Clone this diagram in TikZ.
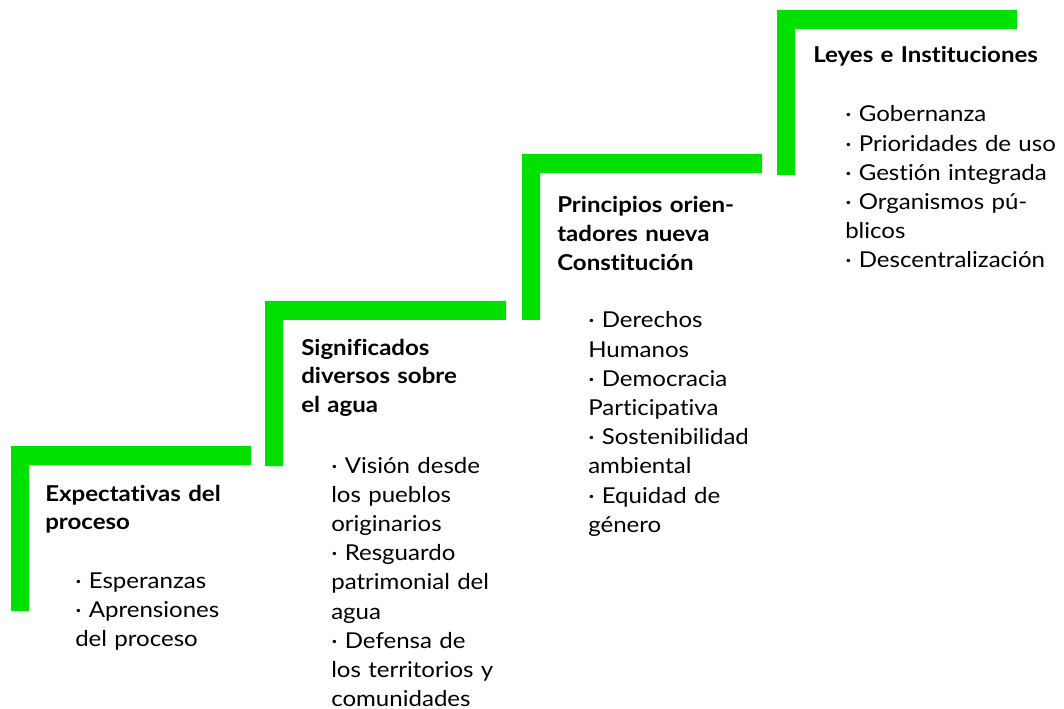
\documentclass[tikz,border=0pt]{standalone}
\usepackage{fontspec}
\setmainfont[FakeStretch = 1.1, RawFeature = {-liga;-clig;-calt;-dlig}]{Lato}
\definecolor{stepgreen}{RGB}{0,225,0}
\tikzset{
  stepbar/.style = {fill = stepgreen},
  steptitle/.style = {anchor = base west, inner sep = 0pt, text width = 8cm, align = left,
    font = \fontsize{16.4}{21.4}\selectfont\bfseries},
  stepitems/.style = {anchor = base west, inner sep = 0pt, text width = 8cm, align = left,
    font = \fontsize{16.4}{21.9}\selectfont}
}

\begin{document}
\begin{tikzpicture} [x = 0.75pt, y = -0.75pt]
\useasboundingbox (0, 0) rectangle (1064, 709);
\fill[stepbar] (11, 446) -- (251, 446) -- (251, 465) -- (29, 465) -- (29, 611) -- (11, 611) -- cycle;
\fill[stepbar] (265, 301) -- (506, 301) -- (506, 320) -- (283, 320) -- (283, 466) -- (265, 466) -- cycle;
\fill[stepbar] (522, 154) -- (762, 154) -- (762, 173) -- (540, 173) -- (540, 320) -- (522, 320) -- cycle;
\fill[stepbar] (777, 10) -- (1017, 10) -- (1017, 29) -- (795, 29) -- (795, 175) -- (777, 175) -- cycle;
\node[steptitle] (title1) at (45, 501) {Expectativas del\\proceso};
\node[steptitle] (title2) at (301, 355) {Significados\\diversos sobre\\el agua};
\node[steptitle] (title3) at (557, 213) {Principios orien-\\tadores nueva\\Constitución};
\node[steptitle] (title4) at (813, 63) {Leyes e Instituciones};
\node[stepitems] (items1) at (75, 588) {· Esperanzas\\· Aprensiones\\del proceso};
\node[stepitems] (items2) at (331, 473) {· Visión desde\\los pueblos\\originarios\\· Resguardo\\patrimonial del\\agua\\· Defensa de\\los territorios y\\comunidades};
\node[stepitems] (items3) at (588, 328) {· Derechos\\Humanos\\· Democracia\\Participativa\\· Sostenibilidad\\ambiental\\· Equidad de\\género};
\node[stepitems] (items4) at (845, 122) {· Gobernanza\\· Prioridades de uso\\· Gestión integrada\\· Organismos pú-\\blicos\\· Descentralización};
\end{tikzpicture}
\end{document}
